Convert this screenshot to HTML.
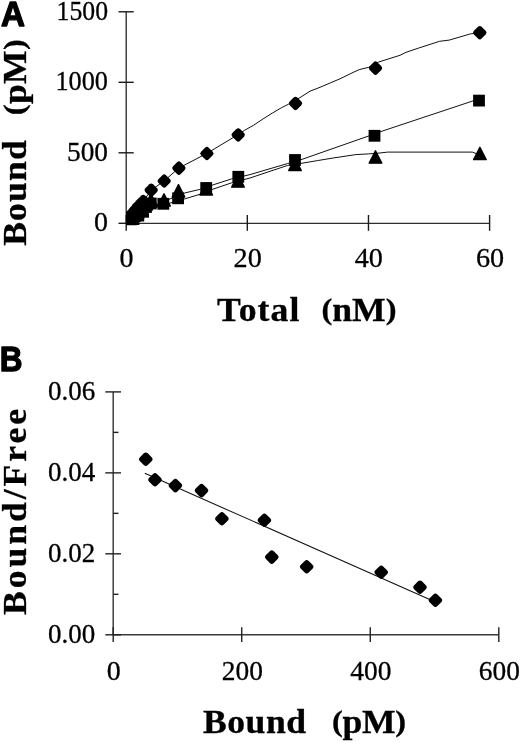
<!DOCTYPE html>
<html><head><meta charset="utf-8"><style>
html,body{margin:0;padding:0;background:#fff;width:520px;height:744px;overflow:hidden}
svg{display:block;will-change:transform}
</style></head><body>
<svg width="520" height="744" viewBox="0 0 520 744">
<path d="M126.2,11.8 V223.3 H489.6" stroke="#2e2e2e" stroke-width="1.35" fill="none"/>
<g stroke="#1a1a1a" stroke-width="1.4" fill="none">
<path d="M118.5,223.3 H133.7"/>
<path d="M118.5,152.8 H133.7"/>
<path d="M118.5,82.3 H133.7"/>
<path d="M118.5,11.8 H133.7"/>
<path d="M126.2,215 V230.8"/>
<path d="M247.33,215 V230.8"/>
<path d="M368.47,215 V230.8"/>
<path d="M489.6,215 V230.8"/>
</g>
<defs><clipPath id="ca"><rect x="126.3" y="0" width="394" height="225.2"/></clipPath></defs>
<g clip-path="url(#ca)">
<g stroke="#111" stroke-width="1.0" fill="none" stroke-linejoin="round">
<path d="M126.2,223.3 L135,212.5 L143.2,201.4 L151.2,190.2 L164,181 L178.9,168 L207,153.3 L238.3,134.5 L244.6,130.3 L253.8,125.1 L263.1,118.9 L272.3,113.1 L281.5,107.7 L288.5,104.2 L301.1,96.9 L310,91.2 L320,87.3 L330.8,82.7 L340,78.8 L350.8,73.5 L359.2,69.6 L368.8,67.3 L378.4,62.1 L400,55.3 L406,52.3 L418.5,48.1 L439.6,41.3 L449.2,40.1 L470.4,33.9 L479.8,32.7"/>
<path d="M126.2,223.3 L140,213 L160,203 L185,192.9 L199.9,189.4 L212,185.2 L231.7,178.9 L250,174.6 L287.7,163.5 L301,159.7 L368.6,136 L381,131.5 L473.3,100.8 L479,99.5"/>
<path d="M126.2,223.3 L140,214 L160,206 L185,198.8 L199.9,194.3 L212,189.5 L231.7,182.8 L250,178 L287.7,165.4 L301,163.4 L317.4,160.6 L333.9,157.9 L355.8,154.6 L368.6,153.9 L378,153.2 L387.7,152.1 L472.3,152.1 L476,153.5"/>
</g>
<g fill="#000">
<path d="M131,211.85 L137.3,224.15 L124.7,224.15 Z" stroke-linejoin="round" stroke-width="1.4" stroke="#000"/>
<path d="M134,208.85 L140.3,221.15 L127.7,221.15 Z" stroke-linejoin="round" stroke-width="1.4" stroke="#000"/>
<path d="M137.5,205.85 L143.8,218.15 L131.2,218.15 Z" stroke-linejoin="round" stroke-width="1.4" stroke="#000"/>
<path d="M141.5,201.85 L147.8,214.15 L135.2,214.15 Z" stroke-linejoin="round" stroke-width="1.4" stroke="#000"/>
<path d="M146,197.85 L152.3,210.15 L139.7,210.15 Z" stroke-linejoin="round" stroke-width="1.4" stroke="#000"/>
<path d="M151,193.85 L157.3,206.15 L144.7,206.15 Z" stroke-linejoin="round" stroke-width="1.4" stroke="#000"/>
<path d="M164,193.85 L170.3,206.15 L157.7,206.15 Z" stroke-linejoin="round" stroke-width="1.4" stroke="#000"/>
<path d="M178.5,184.65 L184.8,196.95 L172.2,196.95 Z" stroke-linejoin="round" stroke-width="1.4" stroke="#000"/>
<path d="M206.2,182.65 L212.5,194.95 L199.9,194.95 Z" stroke-linejoin="round" stroke-width="1.4" stroke="#000"/>
<path d="M238,174.85 L244.3,187.15 L231.7,187.15 Z" stroke-linejoin="round" stroke-width="1.4" stroke="#000"/>
<path d="M295,158.15 L301.3,170.45 L288.7,170.45 Z" stroke-linejoin="round" stroke-width="1.4" stroke="#000"/>
<path d="M375.5,150.85 L381.8,163.15 L369.2,163.15 Z" stroke-linejoin="round" stroke-width="1.4" stroke="#000"/>
<path d="M479.9,147.35 L486.2,159.65 L473.6,159.65 Z" stroke-linejoin="round" stroke-width="1.4" stroke="#000"/>
<rect x="125.1" y="215.1" width="11.8" height="11.8"/>
<rect x="127.6" y="213.2" width="11.8" height="11.8"/>
<rect x="132.4" y="209.7" width="11.8" height="11.8"/>
<rect x="137.2" y="205.9" width="11.8" height="11.8"/>
<rect x="140.1" y="201.1" width="11.8" height="11.8"/>
<rect x="144.9" y="197.6" width="11.8" height="11.8"/>
<rect x="157.4" y="197.9" width="11.8" height="11.8"/>
<rect x="172.2" y="192.4" width="11.8" height="11.8"/>
<rect x="200.3" y="182.1" width="11.8" height="11.8"/>
<rect x="232.4" y="170.9" width="11.8" height="11.8"/>
<rect x="289.1" y="154.1" width="11.8" height="11.8"/>
<rect x="368.6" y="129.9" width="11.8" height="11.8"/>
<rect x="473.1" y="94.7" width="11.8" height="11.8"/>
<rect x="124.06" y="211.36" width="10.89" height="10.89" rx="2.6" transform="rotate(45 129.5 216.8)"/>
<rect x="127.06" y="207.86" width="10.89" height="10.89" rx="2.6" transform="rotate(45 132.5 213.3)"/>
<rect x="130.06" y="204.36" width="10.89" height="10.89" rx="2.6" transform="rotate(45 135.5 209.8)"/>
<rect x="133.16" y="200.76" width="10.89" height="10.89" rx="2.6" transform="rotate(45 138.6 206.2)"/>
<rect x="137.76" y="195.96" width="10.89" height="10.89" rx="2.6" transform="rotate(45 143.2 201.4)"/>
<rect x="145.76" y="184.76" width="10.89" height="10.89" rx="2.6" transform="rotate(45 151.2 190.2)"/>
<rect x="158.76" y="175.56" width="10.89" height="10.89" rx="2.6" transform="rotate(45 164.2 181)"/>
<rect x="173.46" y="162.66" width="10.89" height="10.89" rx="2.6" transform="rotate(45 178.9 168.1)"/>
<rect x="201.46" y="148.06" width="10.89" height="10.89" rx="2.6" transform="rotate(45 206.9 153.5)"/>
<rect x="232.76" y="129.46" width="10.89" height="10.89" rx="2.6" transform="rotate(45 238.2 134.9)"/>
<rect x="290.06" y="97.96" width="10.89" height="10.89" rx="2.6" transform="rotate(45 295.5 103.4)"/>
<rect x="370.06" y="62.66" width="10.89" height="10.89" rx="2.6" transform="rotate(45 375.5 68.1)"/>
<rect x="474.36" y="27.26" width="10.89" height="10.89" rx="2.6" transform="rotate(45 479.8 32.7)"/>
</g>
</g>
<path d="M113.2,391.9 V634.8 H498.8" stroke="#3a3a3a" stroke-width="1.45" fill="none"/>
<g stroke="#222" stroke-width="1.4" fill="none">
<path d="M105.3,634.8 H121"/>
<path d="M105.3,553.83 H121"/>
<path d="M105.3,472.87 H121"/>
<path d="M105.3,391.9 H121"/>
<path d="M113.2,594.32 H118.5"/>
<path d="M113.2,513.35 H118.5"/>
<path d="M113.2,432.38 H118.5"/>
<path d="M113.2,627.3 V641.9"/>
<path d="M241.73,627.3 V641.9"/>
<path d="M370.27,627.3 V641.9"/>
<path d="M498.8,627.3 V641.9"/>
</g>
<path d="M144.8,473.3 L432,600.5" stroke="#111" stroke-width="1.05" fill="none"/>
<g fill="#000">
<rect x="140.28" y="453.68" width="11.03" height="11.03" rx="2.8" transform="rotate(45 145.8 459.2)"/>
<rect x="149.48" y="474.28" width="11.03" height="11.03" rx="2.8" transform="rotate(45 155 479.8)"/>
<rect x="169.88" y="480.08" width="11.03" height="11.03" rx="2.8" transform="rotate(45 175.4 485.6)"/>
<rect x="195.98" y="485.08" width="11.03" height="11.03" rx="2.8" transform="rotate(45 201.5 490.6)"/>
<rect x="216.38" y="513.28" width="11.03" height="11.03" rx="2.8" transform="rotate(45 221.9 518.8)"/>
<rect x="258.88" y="514.78" width="11.03" height="11.03" rx="2.8" transform="rotate(45 264.4 520.3)"/>
<rect x="266.28" y="551.58" width="11.03" height="11.03" rx="2.8" transform="rotate(45 271.8 557.1)"/>
<rect x="301.18" y="561.28" width="11.03" height="11.03" rx="2.8" transform="rotate(45 306.7 566.8)"/>
<rect x="375.68" y="566.78" width="11.03" height="11.03" rx="2.8" transform="rotate(45 381.2 572.3)"/>
<rect x="414.48" y="581.68" width="11.03" height="11.03" rx="2.8" transform="rotate(45 420 587.2)"/>
<rect x="429.88" y="594.78" width="11.03" height="11.03" rx="2.8" transform="rotate(45 435.4 600.3)"/>
</g>
<g font-family="Liberation Serif, serif" fill="#000" stroke="#000" stroke-width="0.3">
<text x="108" y="19.5" font-size="26.5" text-anchor="end" font-weight="normal" textLength="51.5" lengthAdjust="spacingAndGlyphs" >1500</text>
<text x="108" y="90" font-size="26.5" text-anchor="end" font-weight="normal" textLength="52.6" lengthAdjust="spacingAndGlyphs" >1000</text>
<text x="108" y="160.5" font-size="26.5" text-anchor="end" font-weight="normal" textLength="41" lengthAdjust="spacingAndGlyphs" >500</text>
<text x="108" y="231" font-size="26.5" text-anchor="end" font-weight="normal" textLength="14" lengthAdjust="spacingAndGlyphs" >0</text>
<text x="126.6" y="267.2" font-size="26.5" text-anchor="middle" font-weight="normal" textLength="14" lengthAdjust="spacingAndGlyphs" >0</text>
<text x="247.73" y="267.2" font-size="26.5" text-anchor="middle" font-weight="normal" textLength="28.2" lengthAdjust="spacingAndGlyphs" >20</text>
<text x="368.87" y="267.2" font-size="26.5" text-anchor="middle" font-weight="normal" textLength="28.2" lengthAdjust="spacingAndGlyphs" >40</text>
<text x="490" y="267.2" font-size="26.5" text-anchor="middle" font-weight="normal" textLength="28.2" lengthAdjust="spacingAndGlyphs" >60</text>
<text x="95.3" y="399.7" font-size="26.5" text-anchor="end" font-weight="normal" textLength="47.3" lengthAdjust="spacingAndGlyphs" >0.06</text>
<text x="95.3" y="480.67" font-size="26.5" text-anchor="end" font-weight="normal" textLength="47.3" lengthAdjust="spacingAndGlyphs" >0.04</text>
<text x="95.3" y="561.63" font-size="26.5" text-anchor="end" font-weight="normal" textLength="47.3" lengthAdjust="spacingAndGlyphs" >0.02</text>
<text x="95.3" y="642.6" font-size="26.5" text-anchor="end" font-weight="normal" textLength="47.3" lengthAdjust="spacingAndGlyphs" >0.00</text>
<text x="113.8" y="679.5" font-size="26.5" text-anchor="middle" font-weight="normal" textLength="14" lengthAdjust="spacingAndGlyphs" >0</text>
<text x="242.33" y="679.5" font-size="26.5" text-anchor="middle" font-weight="normal" textLength="41.1" lengthAdjust="spacingAndGlyphs" >200</text>
<text x="370.87" y="679.5" font-size="26.5" text-anchor="middle" font-weight="normal" textLength="41.1" lengthAdjust="spacingAndGlyphs" >400</text>
<text x="499.4" y="679.5" font-size="26.5" text-anchor="middle" font-weight="normal" textLength="41.1" lengthAdjust="spacingAndGlyphs" >600</text>
<text x="0" y="0" font-size="33" font-weight="bold" textLength="76.39" lengthAdjust="spacing" transform="translate(217,321.2) scale(1.08,1)">Total</text>
<text x="0" y="0" font-size="33" font-weight="bold" textLength="69.44" lengthAdjust="spacing" transform="translate(321.5,321.2) scale(1.08,1)"><tspan font-size="30" dy="-2.0">(</tspan><tspan dy="2.0">nM</tspan><tspan font-size="30" dy="-2.0">)</tspan></text>
<text x="0" y="0" font-size="33" font-weight="bold" textLength="95.37" lengthAdjust="spacing" transform="translate(203,733.4) scale(1.08,1)">Bound</text>
<text x="0" y="0" font-size="33" font-weight="bold" textLength="68.52" lengthAdjust="spacing" transform="translate(332,733.4) scale(1.08,1)"><tspan font-size="30" dy="-2.0">(</tspan><tspan dy="2.0">pM</tspan><tspan font-size="30" dy="-2.0">)</tspan></text>
<text x="0" y="0" font-size="33" font-weight="bold" textLength="97.69" lengthAdjust="spacing" transform="translate(25.8,245.8) rotate(-90) scale(1.08,1)">Bound</text>
<text x="0" y="0" font-size="33" font-weight="bold" textLength="70.37" lengthAdjust="spacing" transform="translate(25.8,115.2) rotate(-90) scale(1.08,1)"><tspan font-size="30" dy="-2.0">(</tspan><tspan dy="2.0">pM</tspan><tspan font-size="30" dy="-2.0">)</tspan></text>
<text x="0" y="0" font-size="33" font-weight="bold" textLength="190.74" lengthAdjust="spacing" transform="translate(26.2,615) rotate(-90) scale(1.08,1)">Bound/Free</text>
</g>
<g font-family="Liberation Sans, sans-serif" font-weight="bold" fill="#000">
<text x="0.9" y="26.3" font-size="35.2" text-anchor="start" font-weight="bold" textLength="24" lengthAdjust="spacingAndGlyphs" font-family="Liberation Sans, sans-serif" stroke="#000" stroke-width="1.3" stroke-linejoin="round">A</text>
<text x="-0.2" y="371.3" font-size="35.2" text-anchor="start" font-weight="bold" textLength="22.8" lengthAdjust="spacingAndGlyphs" font-family="Liberation Sans, sans-serif" stroke="#000" stroke-width="1.3" stroke-linejoin="round">B</text>
</g>
</svg>
</body></html>
